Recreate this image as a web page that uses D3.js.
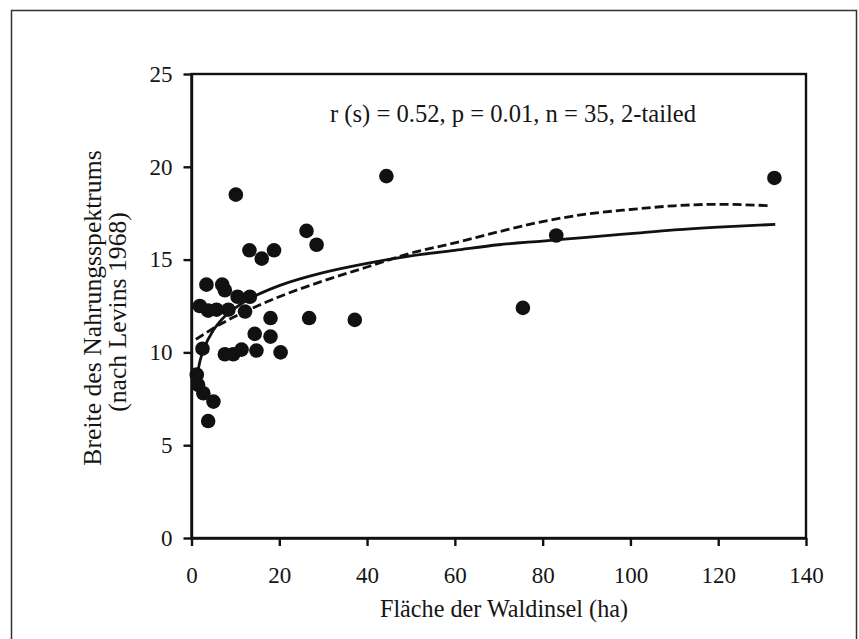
<!DOCTYPE html>
<html>
<head>
    <meta charset="utf-8">
    <title>Nahrungsspektrum</title>
    <script src="https://cdn.jsdelivr.net/npm/d3@7"></script>
    <style>
        body { margin: 0; background: #fff; }
        text { font-family: "Liberation Serif", "Times New Roman", serif; fill: #151515; }
    </style>
</head>
<body>
    <script>
        // islands: area (ha) and breadth of diet (Levins 1968)
        var area    = [3.8, 5.0, 2.7, 1.5, 1.2, 2.5, 7.6, 9.5, 11.4, 14.8, 20.3, 14.4, 18.0, 18.0, 26.8, 37.2,
                       1.9, 3.8, 5.7, 8.4, 12.2, 10.5, 13.3, 3.4, 7.0, 7.6, 16.0, 13.2, 18.8, 26.2, 28.5,
                       10.1, 44.4, 75.5, 83.1, 132.8];
        var breadth = [6.3, 7.35, 7.8, 8.25, 8.8, 10.2, 9.9, 9.9, 10.15, 10.1, 10.0, 11.0, 10.85, 11.85, 11.85, 11.75,
                       12.5, 12.25, 12.3, 12.3, 12.2, 13.0, 13.0, 13.65, 13.65, 13.35, 15.05, 15.5, 15.5, 16.55, 15.8,
                       18.5, 19.5, 12.4, 16.3, 19.4];

        // fitted curves
        var solidX = [1, 2, 3, 5, 7, 10, 15, 20, 30, 40, 50, 60, 70, 80, 90, 100, 110, 120, 133];
        var solidY = [8.4, 9.6, 10.3, 11.2, 11.8, 12.4, 13.1, 13.6, 14.3, 14.8, 15.2, 15.5, 15.8, 16.0, 16.2, 16.4, 16.6, 16.75, 16.9];
        var dashX  = [1, 5, 10, 15, 20, 30, 40, 50, 60, 70, 80, 90, 100, 110, 120, 132];
        var dashY  = [10.7, 11.3, 11.95, 12.5, 13.0, 13.85, 14.6, 15.35, 15.9, 16.5, 17.05, 17.45, 17.7, 17.9, 17.98, 17.9];

        var xTicks = [0, 20, 40, 60, 80, 100, 120, 140];
        var yTicks = [0, 5, 10, 15, 20, 25];

        var width = 859, height = 639;
        var plotLeft = 191.5, plotRight = 806, plotTop = 74, plotBottom = 538;

        var x = d3.scaleLinear().domain([0, 140]).range([plotLeft, plotRight]);
        var y = d3.scaleLinear().domain([0, 25]).range([plotBottom, plotTop]);

        var svg = d3.select("body").append("svg")
            .attr("width", width)
            .attr("height", height);

        // outer frame of the figure
        svg.append("rect")
            .attr("x", 11.5).attr("y", 10.5)
            .attr("width", 845).attr("height", 660)
            .attr("fill", "none").attr("stroke", "#333").attr("stroke-width", 1.5);

        // plot box
        svg.append("rect")
            .attr("x", plotLeft).attr("y", plotTop)
            .attr("width", plotRight - plotLeft).attr("height", plotBottom - plotTop)
            .attr("fill", "none").attr("stroke", "#111").attr("stroke-width", 2.4);

        var xAxis = svg.append("g")
            .attr("transform", "translate(0," + plotBottom + ")")
            .call(d3.axisBottom(x).tickValues(xTicks).tickSize(8).tickPadding(21).tickSizeOuter(0));
        var yAxis = svg.append("g")
            .attr("transform", "translate(" + plotLeft + ",0)")
            .call(d3.axisLeft(y).tickValues(yTicks).tickSize(8).tickPadding(11).tickSizeOuter(0));

        [xAxis, yAxis].forEach(function(g) {
            g.select(".domain").attr("stroke", "#111").attr("stroke-width", 2.4);
            g.selectAll(".tick line").attr("stroke", "#111").attr("stroke-width", 2.4);
            g.selectAll(".tick text")
                .attr("font-family", "Liberation Serif")
                .attr("font-size", 23)
                .attr("fill", "#151515");
        });

        // curves
        var solidPts = solidX.map(function(d, i) { return [d, solidY[i]]; });
        var dashPts  = dashX.map(function(d, i) { return [d, dashY[i]]; });
        var line = d3.line()
            .x(function(d) { return x(d[0]); })
            .y(function(d) { return y(d[1]); })
            .curve(d3.curveMonotoneX);

        svg.append("path").datum(solidPts)
            .attr("d", line)
            .attr("fill", "none").attr("stroke", "#111").attr("stroke-width", 2.8);
        svg.append("path").datum(dashPts)
            .attr("d", line)
            .attr("fill", "none").attr("stroke", "#111").attr("stroke-width", 2.8)
            .attr("stroke-dasharray", "9,4");

        // points
        svg.append("g").selectAll("circle")
            .data(area)
            .enter()
            .append("circle")
            .attr("cx", function(d) { return x(d); })
            .attr("cy", function(d, i) { return y(breadth[i]); })
            .attr("r", 7.3)
            .attr("fill", "#111");

        // texts
        svg.append("text")
            .attr("x", 330).attr("y", 122)
            .attr("font-size", 24.6)
            .text("r (s) = 0.52, p = 0.01, n = 35, 2-tailed");

        svg.append("text")
            .attr("x", 504).attr("y", 617)
            .attr("text-anchor", "middle")
            .attr("font-size", 24.2)
            .text("Fläche der Waldinsel (ha)");

        svg.append("text")
            .attr("transform", "translate(101,308) rotate(-90)")
            .attr("text-anchor", "middle")
            .attr("font-size", 25.7)
            .text("Breite des Nahrungsspektrums");
        svg.append("text")
            .attr("transform", "translate(126,312) rotate(-90)")
            .attr("text-anchor", "middle")
            .attr("font-size", 25.7)
            .text("(nach Levins 1968)");
    </script>
</body>
</html>
